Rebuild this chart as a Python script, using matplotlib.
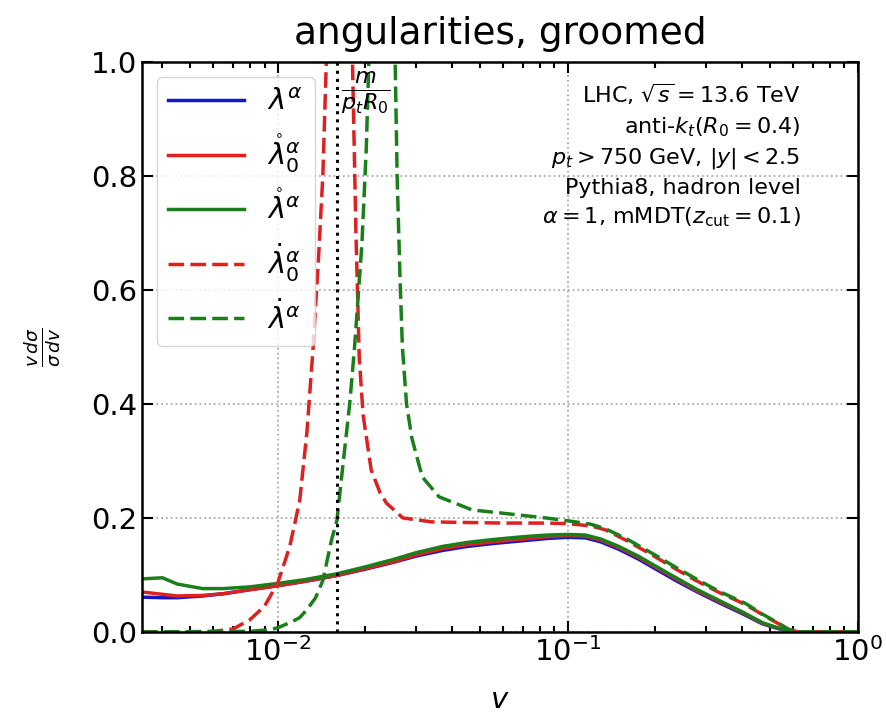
import numpy as np
import matplotlib.pyplot as plt

# lambda^alpha (blue), ring lambda_0 (red), ring lambda (green) -- solid
v_solid = [0.0034, 0.004, 0.0045, 0.0055, 0.0065, 0.008, 0.01, 0.0125, 0.016, 0.02,
           0.025, 0.03, 0.037, 0.045, 0.055, 0.07, 0.085, 0.1, 0.115, 0.13, 0.15,
           0.175, 0.2, 0.24, 0.28, 0.33, 0.4, 0.47, 0.53, 0.58, 0.62, 0.7, 1.0]
lam = [0.061, 0.060, 0.060, 0.063, 0.067, 0.074, 0.081, 0.089, 0.099, 0.110,
       0.122, 0.133, 0.143, 0.150, 0.155, 0.160, 0.164, 0.166, 0.165, 0.158, 0.145,
       0.128, 0.111, 0.088, 0.070, 0.052, 0.032, 0.014, 0.006, 0.001, 0.0, 0.0, 0.0]
lam0_ring = [0.070, 0.066, 0.063, 0.064, 0.067, 0.074, 0.081, 0.089, 0.099, 0.111,
             0.123, 0.135, 0.146, 0.153, 0.158, 0.163, 0.167, 0.169, 0.168, 0.161, 0.148,
             0.131, 0.114, 0.091, 0.072, 0.054, 0.034, 0.015, 0.007, 0.002, 0.0, 0.0, 0.0]
lam_ring = [0.093, 0.095, 0.084, 0.076, 0.076, 0.079, 0.085, 0.092, 0.102, 0.114,
            0.127, 0.139, 0.150, 0.157, 0.162, 0.167, 0.170, 0.171, 0.170, 0.163, 0.150,
            0.133, 0.116, 0.093, 0.074, 0.056, 0.035, 0.016, 0.007, 0.002, 0.0, 0.0, 0.0]

# dot lambda_0 (red dashed)
v_d0 = [0.0034, 0.005, 0.006, 0.007, 0.008, 0.009, 0.01, 0.011, 0.0119, 0.0126,
        0.0132, 0.0138, 0.0143, 0.0147, 0.0155, 0.016, 0.0168, 0.0176, 0.0181, 0.0186,
        0.0191, 0.0197, 0.021, 0.0225, 0.0237, 0.027, 0.034, 0.045, 0.06, 0.084,
        0.1, 0.12, 0.135, 0.16, 0.2, 0.24, 0.275, 0.33, 0.41, 0.47, 0.53, 0.58, 0.62, 0.7, 1.0]
lam0_dot = [0.0, 0.0, 0.001, 0.005, 0.021, 0.045, 0.086, 0.15, 0.23, 0.35,
            0.49, 0.65, 0.80, 1.0, 1.6, 1.9, 1.7, 1.25, 1.0, 0.70,
            0.48, 0.38, 0.284, 0.245, 0.226, 0.200, 0.193, 0.192, 0.191, 0.191,
            0.190, 0.186, 0.179, 0.160, 0.132, 0.108, 0.091, 0.070, 0.048, 0.030, 0.015, 0.004, 0.0, 0.0, 0.0]

# dot lambda (green dashed)
v_d = [0.0034, 0.008, 0.0095, 0.0102, 0.0112, 0.0119, 0.0126, 0.0135, 0.0143, 0.0153,
       0.016, 0.0167, 0.0177, 0.0184, 0.0195, 0.0202, 0.0206, 0.022, 0.024, 0.0254,
       0.0258, 0.0264, 0.0269, 0.0278, 0.029, 0.0315, 0.036, 0.0468, 0.058, 0.084,
       0.1, 0.12, 0.135, 0.16, 0.2, 0.24, 0.275, 0.33, 0.41, 0.47, 0.53, 0.58, 0.62, 0.7, 1.0]
lam_dot = [0.0, 0.001, 0.004, 0.009, 0.018, 0.025, 0.039, 0.06, 0.09, 0.16,
           0.196, 0.284, 0.40, 0.50, 0.68, 0.85, 1.0, 1.9, 1.6, 1.0,
           0.80, 0.62, 0.50, 0.40, 0.34, 0.272, 0.237, 0.214, 0.209, 0.200,
           0.195, 0.189, 0.181, 0.163, 0.135, 0.111, 0.094, 0.072, 0.050, 0.031, 0.016, 0.004, 0.0, 0.0, 0.0]

v_mass = 0.016

c_blue = '#1515cc'
c_red = '#dd2020'
c_green = '#1a7f1a'
dash = (4.5, 1.8)

fig = plt.figure(figsize=(8.87, 7.14), dpi=100)
ax = fig.add_axes([0.160, 0.115, 0.807, 0.798])

ax.plot(v_solid, lam, color=c_blue, lw=2.5, label=r'$\lambda^\alpha$')
ax.plot(v_solid, lam0_ring, color=c_red, lw=2.5, label=r'$\mathring{\lambda}_0^\alpha$')
ax.plot(v_solid, lam_ring, color=c_green, lw=2.5, label=r'$\mathring{\lambda}^\alpha$')
ax.plot(v_d0, lam0_dot, color=c_red, lw=2.5, ls='--', dashes=dash, label=r'$\dot{\lambda}_0^\alpha$')
ax.plot(v_d, lam_dot, color=c_green, lw=2.5, ls='--', dashes=dash, label=r'$\dot{\lambda}^\alpha$')

ax.axvline(v_mass, color='black', ls=':', lw=2.2)
ax.text(v_mass * 1.03, 0.988, r'$\frac{m}{p_t R_0}$', fontsize=23, ha='left', va='top')

ax.set_xscale('log')
ax.set_xlim(0.0034, 1.0)
ax.set_ylim(0, 1)
ax.set_yticks([0, 0.2, 0.4, 0.6, 0.8, 1.0])
ax.grid(True, which='major', ls=':', color='#aaaaaa', lw=1.3)

ax.tick_params(which='both', direction='in', top=True, right=True, labelsize=21, width=1.5)
ax.tick_params(which='major', length=8)
ax.tick_params(which='minor', length=4)
for s in ax.spines.values():
    s.set_linewidth(1.8)

ax.set_title('angularities, groomed', fontsize=27, pad=13)
ax.set_xlabel(r'$v$', fontsize=21, labelpad=14)
ax.set_ylabel(r'$\frac{v\,d\sigma}{\sigma\,dv}$', fontsize=19, labelpad=20)

ax.text(0.92, 0.965,
        'LHC, $\\sqrt{s}=13.6$ TeV\n'
        'anti-$k_t$($R_0=0.4$)\n'
        '$p_t > 750$ GeV, $|y|<2.5$\n'
        'Pythia8, hadron level\n'
        '$\\alpha=1$, mMDT($z_{\\rm cut}=0.1$)',
        transform=ax.transAxes, ha='right', va='top', fontsize=16,
        multialignment='right', linespacing=1.43)

ax.legend(loc='upper left', fontsize=21, handlelength=2.6, labelspacing=0.55)

fig.savefig('out.png', dpi=100)
